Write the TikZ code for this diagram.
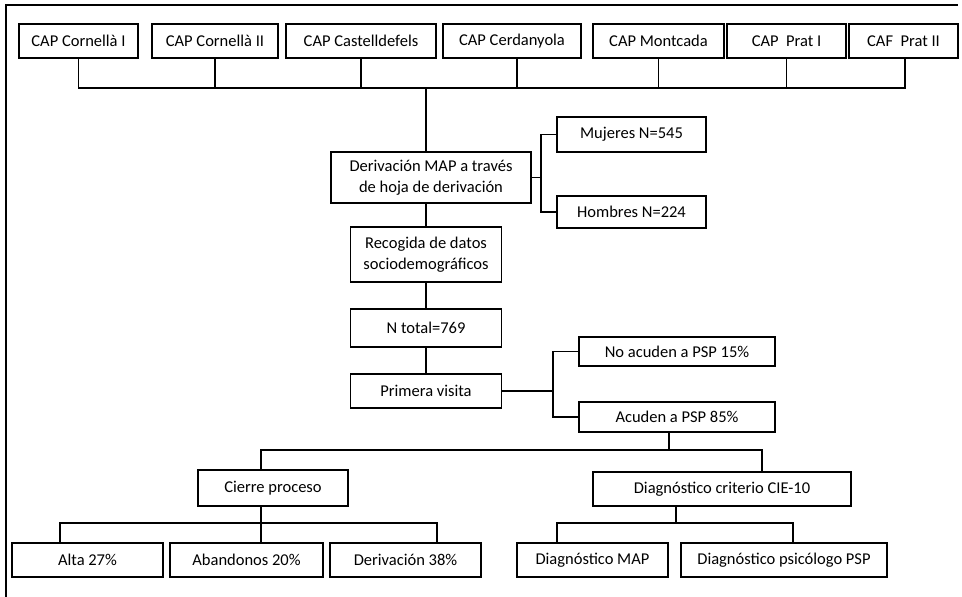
\documentclass[tikz,border=0pt]{standalone}
\usepackage{fontspec}
\setmainfont{Carlito}
\usepackage{tikz}
\usetikzlibrary{calc}

\begin{document}
\begin{tikzpicture}[x=1pt, y=-1pt, line width=1.3pt, box node/.style={draw, rectangle, inner sep=0pt, align=center, minimum height=34pt, font=\fontsize{16.5}{21}\selectfont}]
\useasboundingbox (0,0) rectangle (962,597);
\draw (6,597) -- (6,5) -- (958,5);
% centros de salud
\node[box node, minimum width=119pt] (cap1) at (78.5,41) {CAP Cornellà I};
\node[box node, minimum width=126pt] (cap2) at (215,41) {CAP Cornellà II};
\node[box node, minimum width=150pt] (cap3) at (361,41) {CAP Castelldefels};
\node[box node, minimum width=138pt] (cap4) at (512,41) {CAP Cerdanyola};
\node[box node, minimum width=131pt] (cap5) at (658.5,41) {CAP Montcada};
\node[box node, minimum width=119pt] (cap6) at (786.5,41) {CAP\ \ Prat I};
\node[box node, minimum width=109pt] (cap7) at (903.5,41) {CAF\ \ Prat II};
\coordinate (bus) at (426,88);
% tronco central
\node[box node, minimum width=200pt, minimum height=51pt] (deriv) at (431,177.5) {Derivación MAP a través\\de hoja de derivación};
\node[box node, minimum width=149pt, minimum height=35pt] (muj) at (631.5,134.5) {Mujeres N=545};
\node[box node, minimum width=149pt, minimum height=32pt] (hom) at (631.5,212) {Hombres N=224};
\node[box node, minimum width=151pt, minimum height=55pt] (recog) at (426,254.5) {Recogida de datos\\sociodemográficos};
\node[box node, minimum width=151pt, minimum height=38pt] (ntot) at (426,328) {N total=769};
\node[box node, minimum width=151pt] (prim) at (426,391) {Primera visita};
\node[box node, minimum width=196pt, minimum height=29pt] (noac) at (677,351.5) {No acuden a PSP 15\%};
\node[box node, minimum width=196pt, minimum height=30pt] (acud) at (677,417) {Acuden a PSP 85\%};
\coordinate (j1) at (541,177.5);
\coordinate (j2) at (553,391);
\coordinate (bus2) at (669,450);
\coordinate (b2l) at (261,450);
\coordinate (b2r) at (762,450);
% ramas finales
\node[box node, minimum width=150pt, minimum height=36pt] (cierre) at (273,488) {Cierre proceso};
\node[box node, minimum width=258pt] (diag) at (722,489) {Diagnóstico criterio CIE-10};
\node[box node, minimum width=151pt] (alta) at (87.5,560) {Alta 27\%};
\node[box node, minimum width=153pt] (aban) at (246.5,560) {Abandonos 20\%};
\node[box node, minimum width=151pt] (der38) at (405.5,560) {Derivación 38\%};
\node[box node, minimum width=151pt] (dmap) at (592.5,560) {Diagnóstico MAP};
\node[box node, minimum width=206pt] (dpsp) at (784,560) {Diagnóstico psicólogo PSP};
\coordinate (b3l) at (60,523);
\coordinate (b3) at (261,523);
\coordinate (b3r) at (437,523);
\coordinate (b4l) at (557,523);
\coordinate (b4) at (676,523);
\coordinate (b4r) at (793,523);
\draw (cap1.south) |- (bus) -| ([xshift=1.5pt]cap7.south);
\path[draw]
(cap2.south) -- (cap2.south |- bus)
(cap3.south) -- (cap3.south |- bus)
([xshift=5pt]cap4.south) -- ([xshift=5pt]cap4.south |- bus)
(cap5.south) -- (cap5.south |- bus)
(cap6.south) -- (cap6.south |- bus)
(bus) -- (bus |- deriv.north)
(bus |- deriv.south) -- (recog.north)
(recog) -- (ntot)
(ntot) -- (prim);
\draw (deriv) -- (j1);
\draw (muj.west) -| (j1) |- (hom.west);
\draw (prim) -- (j2);
\draw (noac.west) -| (j2) |- (acud.west);
\draw (bus2 |- acud.south) -- (bus2);
\draw (b2l |- cierre.north) |- (b2r) -- (b2r |- diag.north);
\draw (b3 |- cierre.south) -- (b3 |- aban.north);
\draw (b3l |- alta.north) |- (b3r) -- (b3r |- der38.north);
\draw (b4 |- diag.south) -- (b4);
\draw (b4l |- dmap.north) |- (b4r) -- (b4r |- dpsp.north);
\end{tikzpicture}
\end{document}
